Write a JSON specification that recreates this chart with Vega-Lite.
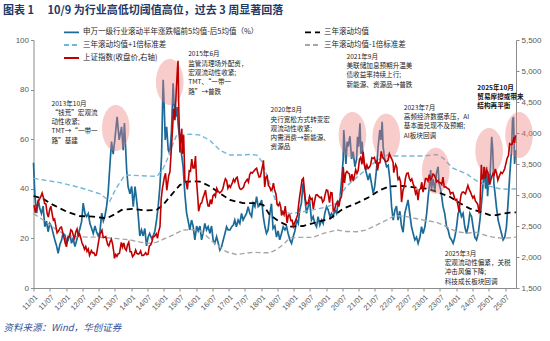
{
  "$schema": "https://vega.github.io/schema/vega-lite/v6.json",
  "width": 482.5,
  "height": 248,
  "autosize": {"type": "none"},
  "padding": {"left": 33.5, "top": 40, "right": 34, "bottom": 53},
  "background": "#ffffff",
  "title": {"text": "图表 1\u3000 10/9 为行业高低切阈值高位，过去 3 周显著回落", "anchor": "start", "frame": "group", "dx": -30.5, "offset": 8, "font": "Noto Sans CJK SC", "fontSize": 11, "fontWeight": "bold", "color": "#1f3864"},
  "config": {
    "view": {"stroke": null},
    "axis": {"grid": false, "labelFont": "Liberation Sans", "labelColor": "#595959", "labelFontSize": 8, "domainColor": "#8c8c8c", "tickColor": "#8c8c8c", "tickSize": 3, "labelPadding": 2}
  },
  "datasets": {
    "blue": [
      {"date":"2011-01-01","v":50.5},{"date":"2011-01-17","v":37},{"date":"2011-02-06","v":30.2},{"date":"2011-02-24","v":35.6},{"date":"2011-03-13","v":32},{"date":"2011-04-01","v":30},{"date":"2011-04-19","v":33},{"date":"2011-05-08","v":24.7},{"date":"2011-05-27","v":27},{"date":"2011-06-14","v":22.7},{"date":"2011-07-03","v":26},{"date":"2011-07-22","v":24.7},{"date":"2011-08-10","v":22},{"date":"2011-08-28","v":19.4},{"date":"2011-09-17","v":17},{"date":"2011-10-05","v":14},{"date":"2011-10-24","v":17.5},{"date":"2011-11-13","v":19.4},{"date":"2011-11-28","v":22},{"date":"2011-12-19","v":21.4},
      {"date":"2012-01-08","v":18},{"date":"2012-01-26","v":19.4},{"date":"2012-02-14","v":22},{"date":"2012-03-03","v":18},{"date":"2012-03-21","v":20},{"date":"2012-04-10","v":16.7},{"date":"2012-04-28","v":19},{"date":"2012-05-16","v":21.4},{"date":"2012-06-05","v":24},{"date":"2012-06-24","v":26.7},{"date":"2012-07-12","v":34.2},{"date":"2012-08-01","v":30},{"date":"2012-08-19","v":28.8},{"date":"2012-09-07","v":30},{"date":"2012-09-26","v":26},{"date":"2012-10-15","v":24},{"date":"2012-11-02","v":22},{"date":"2012-11-21","v":25},{"date":"2012-12-10","v":22.6},{"date":"2012-12-28","v":21},
      {"date":"2013-01-16","v":22.6},{"date":"2013-02-05","v":30.2},{"date":"2013-02-23","v":27},{"date":"2013-03-12","v":28.8},{"date":"2013-04-01","v":33},{"date":"2013-04-18","v":38.3},{"date":"2013-05-07","v":49},{"date":"2013-05-26","v":59},{"date":"2013-06-14","v":54},{"date":"2013-07-02","v":59.7},{"date":"2013-07-28","v":69},{"date":"2013-08-20","v":59.7},{"date":"2013-09-16","v":65},{"date":"2013-10-04","v":55.6},{"date":"2013-10-18","v":66.5},{"date":"2013-11-12","v":47.6},{"date":"2013-11-28","v":40.9},{"date":"2013-12-19","v":38},
      {"date":"2014-01-07","v":41},{"date":"2014-01-25","v":32.8},{"date":"2014-02-14","v":40.9},{"date":"2014-03-02","v":36},{"date":"2014-03-20","v":30},{"date":"2014-04-09","v":21},{"date":"2014-04-28","v":23.4},{"date":"2014-05-16","v":21},{"date":"2014-06-04","v":24},{"date":"2014-06-23","v":17},{"date":"2014-07-11","v":20.5},{"date":"2014-07-28","v":22},{"date":"2014-08-19","v":20},{"date":"2014-09-06","v":21},{"date":"2014-09-25","v":23},{"date":"2014-10-14","v":27.4},{"date":"2014-11-01","v":32.8},{"date":"2014-11-20","v":40.8},{"date":"2014-12-09","v":53},{"date":"2014-12-20","v":73},{"date":"2014-12-27","v":84},
      {"date":"2015-01-08","v":73},{"date":"2015-01-19","v":59.7},{"date":"2015-02-04","v":65},{"date":"2015-02-22","v":55.6},{"date":"2015-03-11","v":54.3},{"date":"2015-03-30","v":63},{"date":"2015-04-18","v":82.5},{"date":"2015-04-29","v":74},{"date":"2015-05-17","v":69},{"date":"2015-06-02","v":73},{"date":"2015-06-13","v":66},{"date":"2015-07-02","v":59.7},{"date":"2015-07-21","v":54},{"date":"2015-08-08","v":49},{"date":"2015-08-27","v":38.2},{"date":"2015-09-16","v":30.2},{"date":"2015-10-04","v":27},{"date":"2015-10-22","v":23.4},{"date":"2015-11-11","v":27.4},{"date":"2015-11-28","v":25},{"date":"2015-12-18","v":19.4},
      {"date":"2016-01-07","v":25},{"date":"2016-01-24","v":23},{"date":"2016-02-13","v":25},{"date":"2016-03-02","v":19.4},{"date":"2016-03-19","v":22},{"date":"2016-04-08","v":26},{"date":"2016-04-27","v":23.4},{"date":"2016-05-15","v":24.7},{"date":"2016-06-04","v":22},{"date":"2016-06-22","v":25},{"date":"2016-07-10","v":19.4},{"date":"2016-07-28","v":18},{"date":"2016-08-18","v":20.7},{"date":"2016-09-06","v":18},{"date":"2016-09-24","v":15.3},{"date":"2016-10-13","v":16.7},{"date":"2016-11-01","v":19.4},{"date":"2016-11-20","v":22},{"date":"2016-12-08","v":24.7},{"date":"2016-12-26","v":23.4},
      {"date":"2017-01-15","v":23.4},{"date":"2017-02-04","v":24.7},{"date":"2017-02-22","v":25.4},{"date":"2017-03-10","v":27.4},{"date":"2017-03-28","v":24.7},{"date":"2017-04-17","v":27.4},{"date":"2017-05-06","v":26},{"date":"2017-05-25","v":30.1},{"date":"2017-06-12","v":27.4},{"date":"2017-07-01","v":28.8},{"date":"2017-07-20","v":30.1},{"date":"2017-08-07","v":32.8},{"date":"2017-08-26","v":30.1},{"date":"2017-09-15","v":28.8},{"date":"2017-10-03","v":34.2},{"date":"2017-10-22","v":32.8},{"date":"2017-11-10","v":36.8},{"date":"2017-11-28","v":32.8},{"date":"2017-12-17","v":33.5},
      {"date":"2018-01-06","v":35.5},{"date":"2018-01-24","v":28.8},{"date":"2018-02-12","v":24.7},{"date":"2018-03-01","v":22},{"date":"2018-03-19","v":23.4},{"date":"2018-04-08","v":30},{"date":"2018-04-26","v":34},{"date":"2018-05-14","v":24},{"date":"2018-06-03","v":25},{"date":"2018-06-22","v":20.5},{"date":"2018-07-10","v":23},{"date":"2018-07-28","v":19.4},{"date":"2018-08-17","v":22},{"date":"2018-09-05","v":24.7},{"date":"2018-09-24","v":23.4},{"date":"2018-10-13","v":24.7},{"date":"2018-10-30","v":22},{"date":"2018-11-19","v":19.4},{"date":"2018-12-08","v":18},{"date":"2018-12-25","v":20.5},
      {"date":"2019-01-14","v":23},{"date":"2019-02-03","v":27.4},{"date":"2019-02-21","v":26},{"date":"2019-03-10","v":31.5},{"date":"2019-03-28","v":34.2},{"date":"2019-04-16","v":42.2},{"date":"2019-05-05","v":36.8},{"date":"2019-05-24","v":30.1},{"date":"2019-06-12","v":32.8},{"date":"2019-06-28","v":35.5},{"date":"2019-07-19","v":27.4},{"date":"2019-08-07","v":28.8},{"date":"2019-08-26","v":26},{"date":"2019-09-14","v":24.7},{"date":"2019-10-02","v":28.8},{"date":"2019-10-21","v":25.4},{"date":"2019-11-10","v":27.4},{"date":"2019-11-28","v":26},{"date":"2019-12-16","v":30.1},
      {"date":"2020-01-05","v":32.8},{"date":"2020-01-23","v":31.5},{"date":"2020-02-12","v":28.8},{"date":"2020-03-01","v":30.1},{"date":"2020-03-18","v":28.8},{"date":"2020-04-07","v":31.5},{"date":"2020-04-26","v":30.1},{"date":"2020-05-13","v":34.2},{"date":"2020-06-02","v":35.5},{"date":"2020-06-21","v":43.5},{"date":"2020-07-09","v":51.6},{"date":"2020-07-16","v":63.7},{"date":"2020-07-28","v":57},{"date":"2020-08-09","v":50},{"date":"2020-08-23","v":59},{"date":"2020-09-04","v":57},{"date":"2020-09-23","v":61.2},{"date":"2020-10-12","v":52},{"date":"2020-10-29","v":55},{"date":"2020-11-18","v":48.9},{"date":"2020-12-07","v":52},{"date":"2020-12-18","v":61},{"date":"2020-12-29","v":57},
      {"date":"2021-01-14","v":66.4},{"date":"2021-01-25","v":54},{"date":"2021-02-06","v":59},{"date":"2021-02-20","v":52},{"date":"2021-03-09","v":48.9},{"date":"2021-03-28","v":46.2},{"date":"2021-04-16","v":43.5},{"date":"2021-05-04","v":46.2},{"date":"2021-05-23","v":42.2},{"date":"2021-06-11","v":38.2},{"date":"2021-06-28","v":40.8},{"date":"2021-07-18","v":47.6},{"date":"2021-08-06","v":57},{"date":"2021-08-25","v":63.7},{"date":"2021-09-06","v":59.7},{"date":"2021-09-20","v":67},{"date":"2021-10-01","v":57},{"date":"2021-10-20","v":51.6},{"date":"2021-11-09","v":48.9},{"date":"2021-11-27","v":49.5},{"date":"2021-12-16","v":43.5},
      {"date":"2022-01-04","v":32.8},{"date":"2022-01-22","v":27.4},{"date":"2022-02-11","v":31.5},{"date":"2022-02-28","v":33},{"date":"2022-03-17","v":27.4},{"date":"2022-04-06","v":31},{"date":"2022-04-25","v":25},{"date":"2022-05-13","v":22.5},{"date":"2022-06-01","v":30},{"date":"2022-06-20","v":32.8},{"date":"2022-07-08","v":35.5},{"date":"2022-07-27","v":30},{"date":"2022-08-16","v":24.7},{"date":"2022-09-03","v":22},{"date":"2022-09-22","v":19.4},{"date":"2022-10-11","v":20.5},{"date":"2022-10-29","v":18},{"date":"2022-11-18","v":20.5},{"date":"2022-12-06","v":24.7},{"date":"2022-12-24","v":22},
      {"date":"2023-01-13","v":24.7},{"date":"2023-02-02","v":30.1},{"date":"2023-02-19","v":36.8},{"date":"2023-03-08","v":42.2},{"date":"2023-03-19","v":47.6},{"date":"2023-03-28","v":40},{"date":"2023-04-15","v":44},{"date":"2023-05-04","v":39},{"date":"2023-05-22","v":46.2},{"date":"2023-06-10","v":48.9},{"date":"2023-06-21","v":42},{"date":"2023-07-07","v":40},{"date":"2023-07-21","v":36.8},{"date":"2023-08-05","v":32.8},{"date":"2023-08-24","v":30},{"date":"2023-09-13","v":24.7},{"date":"2023-10-01","v":23.4},{"date":"2023-10-19","v":20.5},{"date":"2023-11-08","v":19.4},{"date":"2023-11-26","v":18},{"date":"2023-12-15","v":20.5},
      {"date":"2024-01-04","v":24.7},{"date":"2024-01-21","v":30.1},{"date":"2024-02-10","v":31.5},{"date":"2024-02-28","v":28.8},{"date":"2024-03-17","v":30.1},{"date":"2024-04-05","v":24.7},{"date":"2024-04-24","v":22},{"date":"2024-05-12","v":24.7},{"date":"2024-06-01","v":30.1},{"date":"2024-06-20","v":28.8},{"date":"2024-07-07","v":24.7},{"date":"2024-07-26","v":20.5},{"date":"2024-08-15","v":19.4},{"date":"2024-09-03","v":22},{"date":"2024-09-22","v":27.4},{"date":"2024-10-10","v":34.2},{"date":"2024-10-28","v":42.2},{"date":"2024-11-09","v":48.9},{"date":"2024-11-25","v":40},{"date":"2024-12-06","v":48.9},{"date":"2024-12-17","v":37},
      {"date":"2025-01-01","v":46.2},{"date":"2025-01-12","v":43.5},{"date":"2025-02-01","v":61},{"date":"2025-02-12","v":56},{"date":"2025-02-26","v":42},{"date":"2025-03-11","v":38},{"date":"2025-03-26","v":32.8},{"date":"2025-04-14","v":27.4},{"date":"2025-05-03","v":24.7},{"date":"2025-05-22","v":22},{"date":"2025-06-09","v":19.4},{"date":"2025-06-28","v":20.5},{"date":"2025-07-17","v":24.7},{"date":"2025-08-05","v":35},{"date":"2025-08-24","v":46.2},{"date":"2025-09-12","v":55.6},{"date":"2025-09-23","v":67.7},{"date":"2025-10-04","v":69},{"date":"2025-10-16","v":50},{"date":"2025-10-27","v":55.6}
    ],
    "upper": [
      {"date":"2011-01-01","v":44.2},{"date":"2011-10-24","v":42.5},{"date":"2012-06-05","v":40.5},{"date":"2013-01-16","v":38},{"date":"2013-05-07","v":35},{"date":"2013-07-13","v":40},{"date":"2013-10-23","v":45.6},{"date":"2014-04-09","v":45.3},{"date":"2014-10-17","v":45},{"date":"2014-12-24","v":48},{"date":"2015-02-08","v":51.6},{"date":"2015-04-03","v":57},{"date":"2015-05-28","v":61.7},{"date":"2015-10-22","v":62},{"date":"2016-02-13","v":61.7},{"date":"2016-06-04","v":59.5},{"date":"2016-09-24","v":55.6},{"date":"2017-01-15","v":53.6},{"date":"2017-05-06","v":53.6},{"date":"2017-08-26","v":53.8},{"date":"2017-11-14","v":53.6},{"date":"2018-01-09","v":51},{"date":"2018-02-23","v":46.5},{"date":"2018-04-08","v":42},{"date":"2018-06-03","v":36},{"date":"2018-07-28","v":31.5},{"date":"2018-11-19","v":30},{"date":"2019-03-10","v":30.5},{"date":"2019-08-07","v":31.5},{"date":"2019-12-16","v":32.5},{"date":"2020-04-18","v":34},{"date":"2020-08-09","v":40.8},{"date":"2020-12-18","v":44.9},{"date":"2021-04-09","v":48.3},{"date":"2021-07-30","v":51.6},{"date":"2021-11-20","v":53.6},{"date":"2022-02-11","v":53.2},{"date":"2022-07-27","v":53.2},{"date":"2022-12-24","v":53.2},{"date":"2023-05-22","v":53.8},{"date":"2023-08-02","v":52.5},{"date":"2023-11-23","v":48.3},{"date":"2024-04-27","v":46},{"date":"2024-07-04","v":44.2},{"date":"2024-09-22","v":42.5},{"date":"2025-01-12","v":41},{"date":"2025-05-03","v":40},{"date":"2025-08-24","v":39.8},{"date":"2025-10-31","v":40}
    ],
    "mean": [
      {"date":"2011-01-01","v":37.1},{"date":"2011-04-16","v":36},{"date":"2011-08-10","v":33.5},{"date":"2012-01-08","v":30.8},{"date":"2012-06-05","v":29},{"date":"2012-11-02","v":28.8},{"date":"2013-04-01","v":28.1},{"date":"2013-07-02","v":29.7},{"date":"2013-09-16","v":31.5},{"date":"2014-01-25","v":31.9},{"date":"2014-06-04","v":31.3},{"date":"2014-10-14","v":31.5},{"date":"2014-12-27","v":33.5},{"date":"2015-03-11","v":36.8},{"date":"2015-07-02","v":41.5},{"date":"2015-09-16","v":42.9},{"date":"2015-12-18","v":43},{"date":"2016-02-13","v":42.9},{"date":"2016-06-04","v":41},{"date":"2016-09-24","v":38.2},{"date":"2017-01-15","v":35.5},{"date":"2017-06-12","v":34.2},{"date":"2017-11-10","v":34.2},{"date":"2018-01-24","v":33.5},{"date":"2018-03-01","v":31.5},{"date":"2018-04-08","v":29.4},{"date":"2018-07-28","v":26.7},{"date":"2018-11-19","v":24.7},{"date":"2019-04-16","v":25},{"date":"2019-09-14","v":26.5},{"date":"2020-02-12","v":28},{"date":"2020-07-09","v":32},{"date":"2020-12-07","v":34.2},{"date":"2021-05-04","v":36.8},{"date":"2021-08-25","v":39.5},{"date":"2021-12-16","v":41},{"date":"2022-04-25","v":41.2},{"date":"2022-10-11","v":40.5},{"date":"2023-02-19","v":40},{"date":"2023-07-07","v":38.2},{"date":"2023-10-19","v":36.8},{"date":"2024-02-10","v":34.2},{"date":"2024-06-01","v":32},{"date":"2024-09-22","v":30.8},{"date":"2025-01-12","v":29.4},{"date":"2025-03-26","v":29.4},{"date":"2025-06-09","v":30},{"date":"2025-08-24","v":30.4},{"date":"2025-10-31","v":30.5}
    ],
    "lower": [
      {"date":"2011-01-01","v":30},{"date":"2011-05-08","v":27},{"date":"2011-08-28","v":24},{"date":"2012-01-08","v":21},{"date":"2012-08-19","v":20.5},{"date":"2013-01-16","v":20.5},{"date":"2013-07-02","v":20},{"date":"2013-12-19","v":19.4},{"date":"2014-04-09","v":18.5},{"date":"2014-07-28","v":18},{"date":"2014-10-17","v":18.5},{"date":"2015-01-19","v":20},{"date":"2015-04-18","v":21.4},{"date":"2015-08-08","v":23.4},{"date":"2015-11-28","v":23.5},{"date":"2016-02-13","v":23},{"date":"2016-04-27","v":21},{"date":"2016-07-10","v":18.5},{"date":"2016-09-24","v":16.5},{"date":"2016-12-08","v":14.6},{"date":"2017-03-28","v":13.5},{"date":"2017-10-03","v":14.4},{"date":"2018-01-24","v":14.2},{"date":"2018-04-08","v":14.2},{"date":"2018-06-22","v":15.5},{"date":"2018-09-05","v":17.5},{"date":"2018-11-19","v":20.2},{"date":"2019-03-10","v":20.4},{"date":"2019-08-07","v":20.4},{"date":"2019-11-28","v":22},{"date":"2020-04-26","v":23.4},{"date":"2020-08-09","v":22.8},{"date":"2020-12-07","v":22.7},{"date":"2021-03-28","v":23.4},{"date":"2021-07-18","v":25.4},{"date":"2021-11-09","v":27.4},{"date":"2022-02-11","v":29.2},{"date":"2022-06-20","v":28.8},{"date":"2022-12-24","v":27.4},{"date":"2023-05-22","v":26.5},{"date":"2023-09-13","v":24.7},{"date":"2024-01-04","v":22.7},{"date":"2024-04-24","v":22.2},{"date":"2024-08-15","v":22.4},{"date":"2025-01-12","v":20.7},{"date":"2025-06-09","v":20},{"date":"2025-10-31","v":20.5}
    ],
    "sse": [
      {"date":"2011-01-07","v":2838},{"date":"2011-01-21","v":2715},{"date":"2011-02-11","v":2828},{"date":"2011-02-25","v":2905},{"date":"2011-03-11","v":2938},{"date":"2011-03-25","v":2977},{"date":"2011-04-08","v":3030},{"date":"2011-04-22","v":2959},{"date":"2011-05-06","v":2863},{"date":"2011-05-20","v":2858},{"date":"2011-06-03","v":2705},{"date":"2011-06-17","v":2642},{"date":"2011-07-01","v":2759},{"date":"2011-07-15","v":2820},{"date":"2011-07-29","v":2701},{"date":"2011-08-12","v":2593},{"date":"2011-08-26","v":2612},{"date":"2011-09-09","v":2497},{"date":"2011-09-23","v":2389},{"date":"2011-10-14","v":2431},{"date":"2011-10-28","v":2473},{"date":"2011-11-11","v":2481},{"date":"2011-11-25","v":2397},{"date":"2011-12-09","v":2315},{"date":"2011-12-23","v":2225},
      {"date":"2012-01-06","v":2164},{"date":"2012-01-20","v":2319},{"date":"2012-02-10","v":2330},{"date":"2012-02-24","v":2439},{"date":"2012-03-09","v":2420},{"date":"2012-03-23","v":2350},{"date":"2012-04-06","v":2302},{"date":"2012-04-20","v":2406},{"date":"2012-05-04","v":2452},{"date":"2012-05-18","v":2344},{"date":"2012-06-01","v":2373},{"date":"2012-06-15","v":2306},{"date":"2012-06-29","v":2225},{"date":"2012-07-13","v":2185},{"date":"2012-07-27","v":2123},{"date":"2012-08-10","v":2168},{"date":"2012-08-24","v":2092},{"date":"2012-09-07","v":2128},{"date":"2012-09-21","v":2027},{"date":"2012-10-12","v":2104},{"date":"2012-10-26","v":2066},{"date":"2012-11-09","v":2070},{"date":"2012-11-23","v":2024},{"date":"2012-12-07","v":2032},{"date":"2012-12-21","v":2153},
      {"date":"2013-01-04","v":2276},{"date":"2013-01-18","v":2372},{"date":"2013-02-08","v":2432},{"date":"2013-02-22","v":2314},{"date":"2013-03-08","v":2319},{"date":"2013-03-22","v":2328},{"date":"2013-04-12","v":2206},{"date":"2013-04-26","v":2177},{"date":"2013-05-10","v":2247},{"date":"2013-05-24","v":2288},{"date":"2013-06-07","v":2210},{"date":"2013-06-21","v":2073},{"date":"2013-06-28","v":1979},{"date":"2013-07-12","v":2040},{"date":"2013-07-26","v":2010},{"date":"2013-08-09","v":2052},{"date":"2013-08-23","v":2057},{"date":"2013-09-13","v":2236},{"date":"2013-09-27","v":2160},{"date":"2013-10-11","v":2228},{"date":"2013-10-25","v":2133},{"date":"2013-11-08","v":2106},{"date":"2013-11-22","v":2197},{"date":"2013-12-06","v":2238},{"date":"2013-12-20","v":2085},
      {"date":"2014-01-03","v":2083},{"date":"2014-01-17","v":2004},{"date":"2014-02-07","v":2044},{"date":"2014-02-21","v":2113},{"date":"2014-03-07","v":2057},{"date":"2014-03-21","v":2047},{"date":"2014-04-04","v":2058},{"date":"2014-04-18","v":2098},{"date":"2014-05-02","v":2026},{"date":"2014-05-16","v":2026},{"date":"2014-05-30","v":2039},{"date":"2014-06-13","v":2070},{"date":"2014-06-27","v":2036},{"date":"2014-07-11","v":2046},{"date":"2014-07-25","v":2177},{"date":"2014-08-08","v":2194},{"date":"2014-08-22","v":2240},{"date":"2014-09-05","v":2327},{"date":"2014-09-19","v":2329},{"date":"2014-10-10","v":2375},{"date":"2014-10-24","v":2302},{"date":"2014-11-07","v":2418},{"date":"2014-11-21","v":2487},{"date":"2014-12-05","v":2938},{"date":"2014-12-19","v":3108},
      {"date":"2015-01-09","v":3285},{"date":"2015-01-23","v":3351},{"date":"2015-02-06","v":3076},{"date":"2015-02-27","v":3310},{"date":"2015-03-13","v":3373},{"date":"2015-03-27","v":3691},{"date":"2015-04-10","v":4034},{"date":"2015-04-24","v":4394},{"date":"2015-05-08","v":4206},{"date":"2015-05-22","v":4657},{"date":"2015-06-05","v":5023},{"date":"2015-06-12","v":5166},{"date":"2015-06-19","v":4478},{"date":"2015-07-03","v":3687},{"date":"2015-07-10","v":3877},{"date":"2015-07-24","v":4070},{"date":"2015-07-31","v":3664},{"date":"2015-08-14","v":3965},{"date":"2015-08-28","v":3232},{"date":"2015-09-11","v":3200},{"date":"2015-09-25","v":3092},{"date":"2015-10-16","v":3391},{"date":"2015-10-30","v":3383},{"date":"2015-11-13","v":3580},{"date":"2015-11-27","v":3436},{"date":"2015-12-11","v":3435},{"date":"2015-12-25","v":3628},
      {"date":"2016-01-08","v":3186},{"date":"2016-01-22","v":2916},{"date":"2016-01-29","v":2738},{"date":"2016-02-19","v":2860},{"date":"2016-03-04","v":2874},{"date":"2016-03-18","v":2955},{"date":"2016-04-01","v":3009},{"date":"2016-04-15","v":3078},{"date":"2016-04-29","v":2938},{"date":"2016-05-13","v":2827},{"date":"2016-05-27","v":2822},{"date":"2016-06-10","v":2927},{"date":"2016-06-24","v":2854},{"date":"2016-07-08","v":2988},{"date":"2016-07-22","v":3012},{"date":"2016-08-05","v":2976},{"date":"2016-08-19","v":3108},{"date":"2016-09-02","v":3067},{"date":"2016-09-23","v":3033},{"date":"2016-10-14","v":3063},{"date":"2016-10-28","v":3104},{"date":"2016-11-11","v":3196},{"date":"2016-11-25","v":3262},{"date":"2016-12-09","v":3232},{"date":"2016-12-23","v":3110},
      {"date":"2017-01-06","v":3154},{"date":"2017-01-20","v":3123},{"date":"2017-02-10","v":3196},{"date":"2017-02-24","v":3253},{"date":"2017-03-10","v":3212},{"date":"2017-03-24","v":3269},{"date":"2017-04-07","v":3287},{"date":"2017-04-21","v":3173},{"date":"2017-05-05","v":3103},{"date":"2017-05-19","v":3090},{"date":"2017-06-02","v":3105},{"date":"2017-06-16","v":3123},{"date":"2017-06-30","v":3192},{"date":"2017-07-14","v":3222},{"date":"2017-07-28","v":3253},{"date":"2017-08-11","v":3208},{"date":"2017-08-25","v":3331},{"date":"2017-09-08","v":3365},{"date":"2017-09-22","v":3352},{"date":"2017-10-13","v":3390},{"date":"2017-10-27","v":3416},{"date":"2017-11-10","v":3432},{"date":"2017-11-24","v":3353},{"date":"2017-12-08","v":3289},{"date":"2017-12-22","v":3297},
      {"date":"2018-01-05","v":3391},{"date":"2018-01-19","v":3488},{"date":"2018-01-26","v":3558},{"date":"2018-02-09","v":3129},{"date":"2018-02-23","v":3289},{"date":"2018-03-09","v":3307},{"date":"2018-03-23","v":3153},{"date":"2018-04-06","v":3131},{"date":"2018-04-20","v":3071},{"date":"2018-05-04","v":3091},{"date":"2018-05-18","v":3193},{"date":"2018-06-01","v":3075},{"date":"2018-06-15","v":3021},{"date":"2018-06-29","v":2847},{"date":"2018-07-13","v":2831},{"date":"2018-07-27","v":2873},{"date":"2018-08-10","v":2795},{"date":"2018-08-17","v":2669},{"date":"2018-08-31","v":2725},{"date":"2018-09-14","v":2682},{"date":"2018-09-28","v":2821},{"date":"2018-10-19","v":2550},{"date":"2018-11-02","v":2676},{"date":"2018-11-16","v":2679},{"date":"2018-11-30","v":2588},{"date":"2018-12-14","v":2593},{"date":"2018-12-28","v":2494},
      {"date":"2019-01-11","v":2553},{"date":"2019-01-25","v":2601},{"date":"2019-02-15","v":2682},{"date":"2019-02-22","v":2804},{"date":"2019-03-08","v":2969},{"date":"2019-03-22","v":3104},{"date":"2019-04-05","v":3247},{"date":"2019-04-19","v":3271},{"date":"2019-05-10","v":2939},{"date":"2019-05-24","v":2853},{"date":"2019-06-14","v":2882},{"date":"2019-06-28","v":2979},{"date":"2019-07-12","v":2930},{"date":"2019-07-26","v":2944},{"date":"2019-08-09","v":2775},{"date":"2019-08-23","v":2897},{"date":"2019-09-06","v":2999},{"date":"2019-09-20","v":3006},{"date":"2019-10-11","v":2973},{"date":"2019-10-25","v":2954},{"date":"2019-11-08","v":2964},{"date":"2019-11-22","v":2885},{"date":"2019-12-06","v":2912},{"date":"2019-12-20","v":3005},
      {"date":"2020-01-03","v":3083},{"date":"2020-01-17","v":3075},{"date":"2020-02-07","v":2876},{"date":"2020-02-21","v":3039},{"date":"2020-03-06","v":3034},{"date":"2020-03-20","v":2745},{"date":"2020-04-03","v":2764},{"date":"2020-04-17","v":2839},{"date":"2020-05-08","v":2895},{"date":"2020-05-22","v":2813},{"date":"2020-06-05","v":2930},{"date":"2020-06-19","v":2967},{"date":"2020-07-03","v":3152},{"date":"2020-07-10","v":3450},{"date":"2020-07-24","v":3196},{"date":"2020-08-07","v":3354},{"date":"2020-08-21","v":3381},{"date":"2020-09-04","v":3355},{"date":"2020-09-18","v":3338},{"date":"2020-09-30","v":3218},{"date":"2020-10-16","v":3336},{"date":"2020-10-30","v":3225},{"date":"2020-11-13","v":3310},{"date":"2020-11-27","v":3408},{"date":"2020-12-11","v":3347},{"date":"2020-12-25","v":3397},
      {"date":"2021-01-08","v":3570},{"date":"2021-01-22","v":3607},{"date":"2021-02-05","v":3496},{"date":"2021-02-19","v":3696},{"date":"2021-03-05","v":3502},{"date":"2021-03-19","v":3405},{"date":"2021-04-02","v":3484},{"date":"2021-04-16","v":3426},{"date":"2021-04-30","v":3447},{"date":"2021-05-14","v":3490},{"date":"2021-05-28","v":3601},{"date":"2021-06-11","v":3590},{"date":"2021-06-25","v":3607},{"date":"2021-07-09","v":3524},{"date":"2021-07-23","v":3550},{"date":"2021-07-30","v":3397},{"date":"2021-08-13","v":3517},{"date":"2021-08-27","v":3522},{"date":"2021-09-10","v":3703},{"date":"2021-09-24","v":3613},{"date":"2021-10-15","v":3572},{"date":"2021-10-29","v":3547},{"date":"2021-11-12","v":3539},{"date":"2021-11-26","v":3564},{"date":"2021-12-10","v":3666},{"date":"2021-12-24","v":3618},
      {"date":"2022-01-07","v":3580},{"date":"2022-01-21","v":3523},{"date":"2022-01-28","v":3361},{"date":"2022-02-18","v":3491},{"date":"2022-03-04","v":3448},{"date":"2022-03-11","v":3309},{"date":"2022-03-18","v":3251},{"date":"2022-04-01","v":3282},{"date":"2022-04-15","v":3211},{"date":"2022-04-26","v":2886},{"date":"2022-05-13","v":3084},{"date":"2022-05-27","v":3131},{"date":"2022-06-10","v":3285},{"date":"2022-06-24","v":3350},{"date":"2022-07-08","v":3356},{"date":"2022-07-22","v":3270},{"date":"2022-08-05","v":3227},{"date":"2022-08-19","v":3258},{"date":"2022-09-02","v":3186},{"date":"2022-09-16","v":3126},{"date":"2022-09-30","v":3024},{"date":"2022-10-14","v":3071},{"date":"2022-10-28","v":2916},{"date":"2022-11-11","v":3087},{"date":"2022-11-25","v":3101},{"date":"2022-12-09","v":3206},{"date":"2022-12-23","v":3045},
      {"date":"2023-01-06","v":3157},{"date":"2023-01-20","v":3265},{"date":"2023-02-03","v":3263},{"date":"2023-02-17","v":3224},{"date":"2023-03-03","v":3328},{"date":"2023-03-17","v":3251},{"date":"2023-03-31","v":3273},{"date":"2023-04-14","v":3338},{"date":"2023-04-28","v":3323},{"date":"2023-05-12","v":3272},{"date":"2023-05-26","v":3212},{"date":"2023-06-09","v":3231},{"date":"2023-06-21","v":3198},{"date":"2023-07-07","v":3197},{"date":"2023-07-21","v":3168},{"date":"2023-08-04","v":3288},{"date":"2023-08-18","v":3131},{"date":"2023-09-01","v":3133},{"date":"2023-09-15","v":3117},{"date":"2023-10-13","v":3088},{"date":"2023-10-27","v":3018},{"date":"2023-11-10","v":3038},{"date":"2023-11-24","v":3041},{"date":"2023-12-08","v":2970},{"date":"2023-12-22","v":2914},
      {"date":"2024-01-05","v":2929},{"date":"2024-01-19","v":2832},{"date":"2024-02-02","v":2730},{"date":"2024-02-09","v":2866},{"date":"2024-02-23","v":3004},{"date":"2024-03-08","v":3046},{"date":"2024-03-22","v":3048},{"date":"2024-04-12","v":3019},{"date":"2024-04-26","v":3088},{"date":"2024-05-10","v":3154},{"date":"2024-05-24","v":3089},{"date":"2024-06-07","v":3051},{"date":"2024-06-21","v":2998},{"date":"2024-07-05","v":2950},{"date":"2024-07-19","v":2982},{"date":"2024-08-02","v":2905},{"date":"2024-08-16","v":2879},{"date":"2024-08-30","v":2842},{"date":"2024-09-13","v":2704},{"date":"2024-09-20","v":2736},{"date":"2024-10-08","v":3489},{"date":"2024-10-18","v":3261},{"date":"2024-11-01","v":3272},{"date":"2024-11-08","v":3452},{"date":"2024-11-22","v":3267},{"date":"2024-12-06","v":3404},{"date":"2024-12-20","v":3368},
      {"date":"2025-01-10","v":3169},{"date":"2025-01-24","v":3252},{"date":"2025-02-14","v":3346},{"date":"2025-02-28","v":3321},{"date":"2025-03-14","v":3419},{"date":"2025-03-28","v":3352},{"date":"2025-04-11","v":3238},{"date":"2025-04-25","v":3296},{"date":"2025-05-16","v":3367},{"date":"2025-05-30","v":3347},{"date":"2025-06-13","v":3377},{"date":"2025-06-27","v":3424},{"date":"2025-07-11","v":3510},{"date":"2025-07-25","v":3594},{"date":"2025-08-08","v":3635},{"date":"2025-08-22","v":3826},{"date":"2025-09-05","v":3812},{"date":"2025-09-19","v":3820},{"date":"2025-09-30","v":3883},{"date":"2025-10-09","v":3933},{"date":"2025-10-17","v":3840},{"date":"2025-10-24","v":3950},{"date":"2025-10-31","v":3955}
    ],
    "circles": [
      {"date":"2013-07-13","v":64.5},{"date":"2015-03-11","v":83.1},{"date":"2020-10-21","v":61.7},{"date":"2021-11-05","v":61},{"date":"2023-05-15","v":47.3},{"date":"2025-01-03","v":55.2},{"date":"2025-12-05","v":61.7}
    ],
    "notes": [
      {"date":"2011-07-22","v":75.6,"t":"2013年10月\n“钱荒”宏观流\n动性收紧;\nTMT→“一带一\n路”基建"},
      {"date":"2015-10-04","v":95.4,"t":"2015年6月\n监管清理场外配资，\n宏观流动性收紧;\nTMT、“一带一\n路”→普跌"},
      {"date":"2018-04-16","v":72.9,"t":"2020年8月\n央行宽松方式转变宏\n观流动性收紧;\n内需消费→新能源、\n资源品"},
      {"date":"2020-08-16","v":94.4,"t":"2021年9月\n美联储加息预期升温美\n债收益率持续上行;\n新能源、资源品→普跌"},
      {"date":"2022-05-21","v":73.9,"t":"2023年7月\n高频经济数据承压，AI\n基本面兑现不及预期;\nAI板块回调"},
      {"date":"2023-08-24","v":15,"t":"2025年3月\n宏观流动性偏紧，关税\n冲击风偏下降;\n科技成长板块回调"}
    ],
    "notesBold": [
      {"date":"2024-08-24","v":81.9,"t":"2025年10月\n贸易摩擦或带来\n结构再平衡"}
    ]
  },
  "layer": [
    {
      "layer": [
        {
          "data": {"name": "blue"},
          "transform": [{"calculate": "'申万一级行业滚动半年涨跌幅前5均值-后5均值（%）'", "as": "s"}],
          "mark": {"type": "line", "strokeWidth": 1.7},
          "encoding": {
            "x": {"field": "date", "type": "temporal",
              "scale": {"domain": [{"year": 2011, "month": 1, "date": 1}, {"year": 2025, "month": 11, "date": 1}]},
              "axis": {"format": "%y/%m", "labelAngle": -45, "tickCount": {"interval": "month", "step": 6}, "labelOverlap": false, "labelBound": false, "labelFlush": false, "labelFontSize": 7.5,
                "title": "资料来源：Wind，华创证券", "titleFont": "Noto Sans CJK SC", "titleFontStyle": "italic", "titleFontWeight": "normal", "titleFontSize": 9.5, "titleColor": "#2f5597", "titleAnchor": "start", "titleAlign": "left", "titleBaseline": "middle", "titleX": -30.5, "titleY": 39.7}},
            "y": {"field": "v", "type": "quantitative", "scale": {"domain": [0, 100], "nice": false},
              "axis": {"values": [0,10,20,30,40,50,60,70,80,90,100], "title": null}},
            "color": {"field": "s", "type": "nominal",
              "scale": {"domain": ["申万一级行业滚动半年涨跌幅前5均值-后5均值（%）", "三年滚动均值+1倍标准差", "上证指数(收盘价,右轴)", "三年滚动均值", "三年滚动均值-1倍标准差"], "range": ["#1b6a97", "#74b5da", "#c00000", "#000000", "#a6a6a6"]},
              "legend": {"orient": "none", "legendX": 29.5, "legendY": -16.5, "columns": 2, "columnPadding": 42, "rowPadding": -2.8, "symbolType": "stroke", "symbolSize": 225, "symbolStrokeWidth": 1.8, "labelFont": "Noto Sans CJK SC", "labelFontSize": 7.5, "labelColor": "#262626", "labelOffset": 3, "labelLimit": 400, "title": null, "padding": 0}},
            "strokeDash": {"field": "s", "type": "nominal",
              "scale": {"domain": ["申万一级行业滚动半年涨跌幅前5均值-后5均值（%）", "三年滚动均值+1倍标准差", "上证指数(收盘价,右轴)", "三年滚动均值", "三年滚动均值-1倍标准差"], "range": [[1, 0], [5, 3], [1, 0], [6, 4], [5, 3]]},
              "legend": {"orient": "none", "legendX": 29.5, "legendY": -16.5, "columns": 2, "columnPadding": 42, "rowPadding": -2.8, "symbolType": "stroke", "symbolSize": 225, "symbolStrokeWidth": 1.8, "labelFont": "Noto Sans CJK SC", "labelFontSize": 7.5, "labelColor": "#262626", "labelOffset": 3, "labelLimit": 400, "title": null, "padding": 0}}
          }
        },
        {
          "data": {"name": "upper"},
          "transform": [{"calculate": "'三年滚动均值+1倍标准差'", "as": "s"}],
          "mark": {"type": "line", "strokeWidth": 1.4},
          "encoding": {
            "x": {"field": "date", "type": "temporal"},
            "y": {"field": "v", "type": "quantitative"},
            "color": {"field": "s", "type": "nominal"},
            "strokeDash": {"field": "s", "type": "nominal"}
          }
        },
        {
          "data": {"name": "lower"},
          "transform": [{"calculate": "'三年滚动均值-1倍标准差'", "as": "s"}],
          "mark": {"type": "line", "strokeWidth": 1.4},
          "encoding": {
            "x": {"field": "date", "type": "temporal"},
            "y": {"field": "v", "type": "quantitative"},
            "color": {"field": "s", "type": "nominal"},
            "strokeDash": {"field": "s", "type": "nominal"}
          }
        },
        {
          "data": {"name": "mean"},
          "transform": [{"calculate": "'三年滚动均值'", "as": "s"}],
          "mark": {"type": "line", "strokeWidth": 1.8},
          "encoding": {
            "x": {"field": "date", "type": "temporal"},
            "y": {"field": "v", "type": "quantitative"},
            "color": {"field": "s", "type": "nominal"},
            "strokeDash": {"field": "s", "type": "nominal"}
          }
        },
        {
          "data": {"name": "circles"},
          "mark": {"type": "point", "shape": "M -0.6 0 A 0.6 1 0 1 0 0.6 0 A 0.6 1 0 1 0 -0.6 0 Z", "size": 2116, "filled": true, "color": "#f08080", "opacity": 0.4, "strokeWidth": 0, "clip": false},
          "encoding": {
            "x": {"field": "date", "type": "temporal"},
            "y": {"field": "v", "type": "quantitative"}
          }
        },
        {
          "data": {"name": "notes"},
          "mark": {"type": "text", "align": "left", "baseline": "top", "font": "Noto Sans CJK SC", "fontSize": 6.6, "lineHeight": 9.3, "lineBreak": "\n", "color": "#222222"},
          "encoding": {
            "x": {"field": "date", "type": "temporal"},
            "y": {"field": "v", "type": "quantitative"},
            "text": {"field": "t"}
          }
        },
        {
          "data": {"name": "notesBold"},
          "mark": {"type": "text", "align": "left", "baseline": "top", "font": "Noto Sans CJK SC", "fontSize": 6.6, "fontWeight": "bold", "lineHeight": 9.3, "lineBreak": "\n", "color": "#111111", "clip": false},
          "encoding": {
            "x": {"field": "date", "type": "temporal"},
            "y": {"field": "v", "type": "quantitative"},
            "text": {"field": "t"}
          }
        },
        {
          "mark": {"type": "rule", "color": "#2f5597", "strokeWidth": 1.8, "clip": false},
          "encoding": {
            "x": {"datum": {"year": 2009, "month": 12, "date": 20}, "type": "temporal"},
            "x2": {"datum": {"year": 2026, "month": 11, "date": 16}},
            "y": {"datum": 108.1, "type": "quantitative"}
          }
        },
        {
          "mark": {"type": "rule", "color": "#2f5597", "strokeWidth": 1.8, "clip": false},
          "encoding": {
            "x": {"datum": {"year": 2009, "month": 12, "date": 20}, "type": "temporal"},
            "x2": {"datum": {"year": 2026, "month": 11, "date": 16}},
            "y": {"datum": -11.9, "type": "quantitative"}
          }
        }
      ]
    },
    {
      "data": {"name": "sse"},
      "transform": [{"calculate": "'上证指数(收盘价,右轴)'", "as": "s"}],
      "mark": {"type": "line", "strokeWidth": 1.6},
      "encoding": {
        "x": {"field": "date", "type": "temporal"},
        "y": {"field": "v", "type": "quantitative", "scale": {"domain": [1500, 5500], "nice": false},
          "axis": {"orient": "right", "values": [1500,2000,2500,3000,3500,4000,4500,5000,5500], "title": null}},
        "color": {"field": "s", "type": "nominal"},
        "strokeDash": {"field": "s", "type": "nominal"}
      }
    }
  ],
  "resolve": {"scale": {"y": "independent"}}
}
